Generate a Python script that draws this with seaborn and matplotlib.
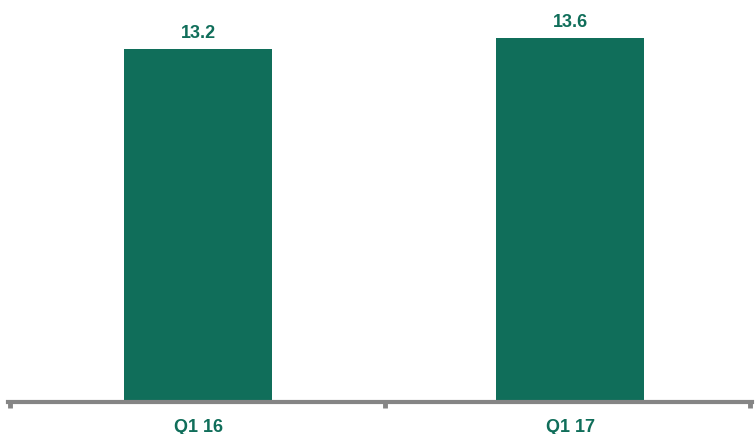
import matplotlib
matplotlib.use("Agg")
import matplotlib.pyplot as plt
import pandas as pd
import seaborn as sns

# chart values
quarters = ["Q1 16", "Q1 17"]
values = [13.2, 13.6]

GREEN = "#106E5A"
GREY = "#858585"


def main() -> None:
    sns.set_theme(style="white")
    plt.rcParams["font.family"] = ["Liberation Sans", "DejaVu Sans"]

    df = pd.DataFrame({"quarter": quarters, "value": values})

    fig = plt.figure(figsize=(7.55, 4.35), dpi=100)
    ax = fig.add_axes([8 / 755, 32 / 435, 744 / 755, 403 / 435])

    sns.barplot(
        data=df, x="quarter", y="value", color=GREEN,
        saturation=1, width=0.4, ax=ax,
    )
    for p in ax.patches:
        p.set_edgecolor("none")

    ax.set_xlim(-0.511, 1.489)
    ax.set_ylim(0, 15.07)

    # value labels above bars
    for i, v in enumerate(values):
        ax.annotate(
            f"{v}", (i, v), xytext=(0, 6), textcoords="offset points",
            ha="center", va="bottom", fontsize=13, fontweight="bold",
            color=GREEN,
        )

    for side in ["top", "left", "right"]:
        ax.spines[side].set_visible(False)
    ax.spines["bottom"].set_color(GREY)
    ax.spines["bottom"].set_linewidth(3)
    ax.spines["bottom"].set_zorder(5)

    ax.set_yticks([])
    ax.set_xlabel("")
    ax.set_ylabel("")
    ax.tick_params(axis="x", which="major", bottom=True, length=0, pad=11.5,
                   labelsize=13, labelcolor=GREEN)
    for lbl in ax.get_xticklabels():
        lbl.set_fontweight("bold")
    ax.set_xticks([-0.505, 0.503, 1.484], minor=True)
    ax.tick_params(axis="x", which="minor", bottom=True, length=4, width=3.5,
                   color=GREY, direction="out")

    fig.savefig("out.png", dpi=100)


if __name__ == "__main__":
    main()
